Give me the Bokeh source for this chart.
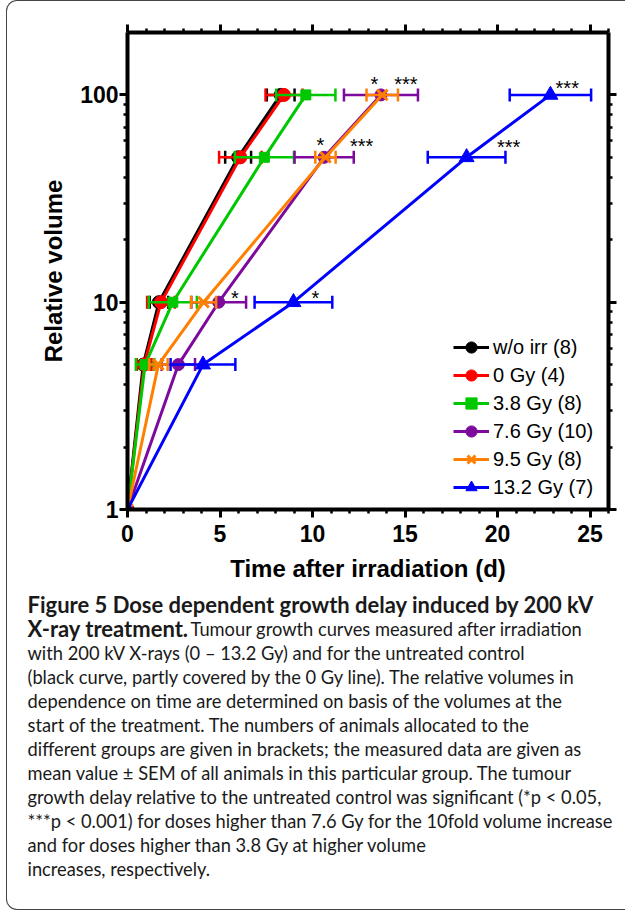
from bokeh.plotting import figure
from bokeh.models import (Range1d, LinearAxis, LogAxis, SingleIntervalTicker, FixedTicker,
                          PrintfTickFormatter, CustomJSTickFormatter, Legend, LegendItem,
                          ColumnDataSource, Spacer)
from bokeh.layouts import column, row
from bokeh.embed import file_html
from bokeh.resources import INLINE
from bokeh.core.properties import value
import math

# ---------------- data ----------------
volume_levels = [1, 5, 10, 50, 100]
group_names = ["w/o irr (8)", "0 Gy (4)", "3.8 Gy (8)", "7.6 Gy (10)", "9.5 Gy (8)", "13.2 Gy (7)"]

time_wo_irr = [0, 0.85, 1.70, 5.98, 8.28]
sem_wo_irr = [0, 0.35, 0.50, 0.70, 0.75]
time_0gy = [0, 0.90, 1.81, 6.10, 8.46]
sem_0gy = [0, 0.40, 0.75, 1.15, 1.00]
time_3_8gy = [0, 0.95, 2.45, 7.40, 9.64]
sem_3_8gy = [0, 0.50, 1.30, 1.60, 1.60]
time_7_6gy = [0, 2.75, 4.93, 10.63, 13.70]
sem_7_6gy = [0, 0.90, 1.48, 1.60, 2.00]
time_9_5gy = [0, 1.67, 4.11, 10.70, 13.77]
sem_9_5gy = [0, 0.50, 0.68, 0.55, 0.85]
time_13_2gy = [0, 4.08, 8.97, 18.33, 22.86]
sem_13_2gy = [0, 1.75, 2.10, 2.10, 2.20]

sig_x = [5.80, 10.15, 10.43, 12.66, 20.60, 13.35, 15.05, 23.77]
sig_y = [10.75, 10.75, 58.9, 58.0, 57.4, 115.6, 115.6, 110.3]
sig_text = ["*", "*", "*", "***", "***", "*", "***", "***"]

x_major_ticks = [0, 5, 10, 15, 20, 25]
y_major_ticks = [1, 10, 100]
y_minor_ticks = [m * d for d in (1, 10, 100) for m in range(2, 10) if m * d < 200]

caption_lines = [
    "Figure 5 Dose dependent growth delay induced by 200 kV",
    "X-ray treatment.",
    " Tumour growth curves measured after irradiation",
    "with 200 kV X-rays (0 \u2013 13.2 Gy) and for the untreated control",
    "(black curve, partly covered by the 0 Gy line). The relative volumes in",
    "dependence on time are determined on basis of the volumes at the",
    "start of the treatment. The numbers of animals allocated to the",
    "different groups are given in brackets; the measured data are given as",
    "mean value \u00b1 SEM of all animals in this particular group. The tumour",
    "growth delay relative to the untreated control was significant (*p < 0.05,",
    "***p < 0.001) for doses higher than 7.6 Gy for the 10fold volume increase",
    "and for doses higher than 3.8 Gy at higher volume",
    "increases, respectively.",
]

series = [
    (group_names[0], time_wo_irr, sem_wo_irr, "#000000", "circle", 13),
    (group_names[1], time_0gy, sem_0gy, "#FF0000", "circle", 13),
    (group_names[2], time_3_8gy, sem_3_8gy, "#00C800", "square", 10),
    (group_names[3], time_7_6gy, sem_7_6gy, "#7D0A9C", "circle", 12),
    (group_names[4], time_9_5gy, sem_9_5gy, "#FF8000", "x", 15),
    (group_names[5], time_13_2gy, sem_13_2gy, "#0000FF", "triangle", 15),
]

FONT = "Liberation Sans"
W = 618
CH = 583
CAP_H = 325

p = figure(width=W, height=CH, x_range=Range1d(0, 26), y_range=Range1d(1, 200),
           y_axis_type="log", output_backend="svg", toolbar_location=None,
           min_border_left=120, min_border_right=17, min_border_top=31, min_border_bottom=75)
p.frame_align = False
p.outline_line_color = None
p.grid.visible = False
p.background_fill_color = "white"
p.border_fill_color = None

xticker = SingleIntervalTicker(interval=5, num_minor_ticks=5)
yticker = FixedTicker(ticks=y_major_ticks, minor_ticks=y_minor_ticks)
blank = CustomJSTickFormatter(code="return ''")


def style_axis(ax):
    ax.axis_line_width = 4
    ax.axis_line_color = "black"
    ax.major_tick_line_width = 3
    ax.minor_tick_line_width = 2.5
    ax.major_tick_out = 8
    ax.major_tick_in = 0
    ax.minor_tick_out = 4
    ax.minor_tick_in = 0
    ax.major_label_text_font = FONT
    ax.major_label_text_font_style = "bold"
    ax.major_label_text_font_size = "23px"
    ax.major_label_text_color = "black"
    ax.axis_label_text_font = FONT
    ax.axis_label_text_font_style = "bold"
    ax.axis_label_text_font_size = "24px"
    ax.axis_label_text_color = "black"


xa = p.xaxis[0]
xa.ticker = xticker
style_axis(xa)
xa.major_label_standoff = 7
xa.axis_label = "Time after irradiation (d)"
xa.axis_label_standoff = 10

ya = p.yaxis[0]
ya.ticker = yticker
ya.formatter = PrintfTickFormatter(format="%d")
style_axis(ya)
ya.major_label_standoff = 1
ya.axis_label = "Relative volume"
ya.axis_label_standoff = 10

top = LinearAxis(ticker=xticker, formatter=blank)
style_axis(top)
top.major_label_standoff = 0
p.add_layout(top, "above")
right = LogAxis(ticker=yticker, formatter=blank)
style_axis(right)
right.major_label_standoff = 0
p.add_layout(right, "right")

items = []
for name, tx, sem, color, marker, size in series:
    src = ColumnDataSource(dict(x=tx, y=volume_levels))
    eb = ColumnDataSource(dict(
        y=[v for v, s in zip(volume_levels, sem) if s > 0],
        lo=[a - b for a, b, in zip(tx, sem) if b > 0],
        hi=[a + b for a, b, in zip(tx, sem) if b > 0]))
    p.segment(x0="lo", x1="hi", y0="y", y1="y", source=eb, line_color=color, line_width=2.5)
    p.scatter(x="lo", y="y", source=eb, marker="dash", angle=math.pi / 2, size=13,
              line_color=color, line_width=2.5)
    p.scatter(x="hi", y="y", source=eb, marker="dash", angle=math.pi / 2, size=13,
              line_color=color, line_width=2.5)
    ln = p.line(x="x", y="y", source=src, line_color=color, line_width=3)
    if marker == "x":
        mk = p.scatter(x="x", y="y", source=src, marker=marker, size=size,
                       line_color=color, line_width=3)
    else:
        mk = p.scatter(x="x", y="y", source=src, marker=marker, size=size,
                       fill_color=color, line_color=color)
    items.append(LegendItem(label=name, renderers=[ln, mk]))

p.text(x=sig_x, y=sig_y, text=sig_text, text_align="center", text_baseline="middle",
       text_font=value(FONT), text_font_size="20px", text_color="black", y_offset=2)

legend = Legend(items=items, location=(326, 8), orientation="vertical")
legend.glyph_width = 36
legend.glyph_height = 28
legend.label_height = 28
legend.spacing = 0
legend.padding = 2
legend.margin = 0
legend.label_standoff = 4
legend.label_text_font = FONT
legend.label_text_font_size = "20px"
legend.label_text_color = "black"
legend.border_line_color = None
legend.background_fill_alpha = 0
p.add_layout(legend)

# ---------------- caption ----------------
c = figure(width=W, height=CAP_H, x_range=Range1d(0, W), y_range=Range1d(0, CAP_H),
           output_backend="svg", toolbar_location=None, min_border=0,
           x_axis_location=None, y_axis_location=None)
c.frame_align = False
c.grid.visible = False
c.outline_line_color = None
c.border_fill_color = None
c.background_fill_color = None

x0 = 20
y0 = CAP_H - 20
dy = 24
c.text(x=[x0, x0], y=[y0, y0 - dy], text=[caption_lines[0], caption_lines[1]],
       text_font=value("Lato"), text_font_style="bold", text_font_size="22px",
       text_baseline="middle", text_color="#1a1a1a")
normal_text = caption_lines[2:]
normal_x = [183] + [x0] * (len(normal_text) - 1)
normal_y = [y0 - dy] + [y0 - dy * (i + 2) for i in range(len(normal_text) - 1)]
c.text(x=normal_x, y=normal_y, text=normal_text,
       text_font=value("Lato"), text_font_size="18.3px",
       text_baseline="middle", text_color="#1a1a1a")

col = column(p, c, spacing=0,
             styles={"border-left": "1.5px solid #444", "border-top": "1.5px solid #444",
                     "border-bottom": "1.5px solid #444",
                     "border-top-left-radius": "11px", "border-bottom-left-radius": "11px"})
layout = row(Spacer(width=6, height=10), col, spacing=0)

open("out.html", "w").write(file_html(layout, INLINE))
